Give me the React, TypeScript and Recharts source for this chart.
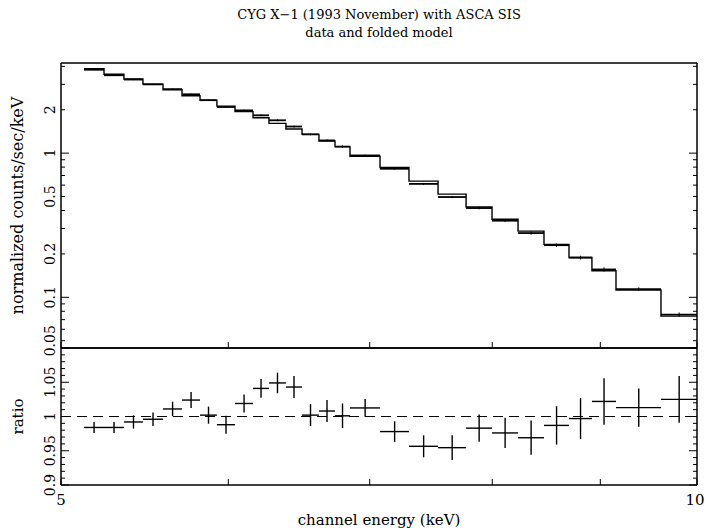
// CYG X-1 ASCA SIS — data + folded model, with ratio panel

import { ComposedChart, Line, Scatter, XAxis, YAxis, ErrorBar, ReferenceLine } from 'recharts';

// ── data ──
// bin edges in keV (27 bins)
const binEdges = [
  5.127, 5.24, 5.355, 5.467, 5.588, 5.705, 5.818, 5.926, 6.044, 6.164, 6.272, 6.389, 6.502, 6.623,
  6.74, 6.851, 7.079, 7.306, 7.541, 7.775, 7.998, 8.228, 8.464, 8.698, 8.918, 9.155, 9.615, 10.0,
];
// folded model, counts/sec/keV
const model = [
  3.85, 3.53, 3.27, 3.01, 2.75, 2.5, 2.33, 2.12, 1.94, 1.76, 1.61, 1.47, 1.35, 1.215, 1.11, 0.952,
  0.796, 0.64, 0.52, 0.423, 0.348, 0.288, 0.233, 0.189, 0.153, 0.1125, 0.074,
];
// observed data, counts/sec/keV
const counts = [
  3.79, 3.47, 3.24, 3.0, 2.78, 2.56, 2.33, 2.09, 1.98, 1.83, 1.69, 1.53, 1.35, 1.225, 1.11, 0.964,
  0.779, 0.612, 0.496, 0.416, 0.34, 0.279, 0.23, 0.1885, 0.156, 0.114, 0.0759,
];
// data / model
const ratio = [
  0.984, 0.984, 0.992, 0.996, 1.011, 1.024, 1.002, 0.988, 1.019, 1.041, 1.049, 1.043, 1.002, 1.008,
  1.001, 1.0125, 0.978, 0.9565, 0.9545, 0.983, 0.976, 0.969, 0.987, 0.997, 1.022, 1.013, 1.025,
];
// 1-sigma error on ratio
const ratioErr = [
  0.008, 0.008, 0.0097, 0.01, 0.0106, 0.0116, 0.0125, 0.013, 0.013, 0.0137, 0.015, 0.016, 0.016,
  0.016, 0.018, 0.013, 0.015, 0.016, 0.018, 0.02, 0.022, 0.025, 0.028, 0.03, 0.034, 0.028, 0.034,
];

const xTicks = [5, 6, 7, 8, 9, 10];
const xLabels: Record<number, string> = { 5: '5', 10: '10' };
const countTicks = [
  0.05, 0.06, 0.07, 0.08, 0.09, 0.1, 0.2, 0.3, 0.4, 0.5, 0.6, 0.7, 0.8, 0.9, 1, 2, 3, 4,
];
const countLabels: Record<number, string> = { 0.05: '0.05', 0.1: '0.1', 0.2: '0.2', 0.5: '0.5', 1: '1', 2: '2' };
const countMajors = [0.1, 1];
const ratioTicks = [
  0.9, 0.91, 0.92, 0.93, 0.94, 0.95, 0.96, 0.97, 0.98, 0.99, 1, 1.01, 1.02, 1.03, 1.04, 1.05, 1.06,
  1.07, 1.08, 1.09, 1.1,
];
const ratioLabels: Record<number, string> = { 0.9: '0.9', 0.95: '0.95', 1: '1', 1.05: '1.05' };
const ratioMajors = [0.9, 0.95, 1, 1.05, 1.1];

// model as a step line over bin edges, last value repeated at the end edge
const modelRows = binEdges.map((x, i) => ({ x, m: model[Math.min(i, model.length - 1)] }));
const dataRows = model.map((_, i) => {
  const lo = binEdges[i];
  const hi = binEdges[i + 1];
  const c = (lo + hi) / 2;
  return {
    x: c,
    d: counts[i],
    r: ratio[i],
    xErr: [c - lo, hi - c],
    dErr: counts[i] * ratioErr[i],
    rErr: ratioErr[i],
  };
});

const W = 705;
const H = 528;
const FONT = "'DejaVu Serif', serif";
const INK = '#000';

const near = (a: number, b: number) => Math.abs(a - b) < 1e-9;

// tick renderers: ticks point into the frame, labels drawn rotated like PGPLOT
function yTick(side: 'left' | 'right', majors: number[], labels: Record<number, string>) {
  return (props: any) => {
    const { x, y, payload } = props;
    const v = payload.value as number;
    const len = majors.some((m) => near(m, v)) ? 8 : 4;
    const dir = side === 'left' ? 1 : -1;
    const key = Object.keys(labels).find((k) => near(Number(k), v));
    const lx = x - 6;
    return (
      <g>
        <line x1={x} y1={y} x2={x + dir * len} y2={y} stroke={INK} strokeWidth={1} />
        {side === 'left' && key !== undefined && (
          <text x={lx} y={y} transform={`rotate(-90 ${lx} ${y})`} textAnchor="middle" fontFamily={FONT} fontSize={14} fill={INK}>
            {labels[Number(key)]}
          </text>
        )}
      </g>
    );
  };
}

function xTick(side: 'top' | 'bottom', showLabels: boolean) {
  return (props: any) => {
    const { x, y, payload } = props;
    const v = payload.value as number;
    const dir = side === 'bottom' ? -1 : 1;
    const lbl = xLabels[v];
    // keep the right-hand "10" inside the page
    const lx = Math.min(x, W - 10);
    return (
      <g>
        <line x1={x} y1={y} x2={x} y2={y + dir * 6} stroke={INK} strokeWidth={1} />
        {showLabels && lbl && (
          <text x={lx} y={y + 20} textAnchor="middle" fontFamily={FONT} fontSize={15} fill={INK}>
            {lbl}
          </text>
        )}
      </g>
    );
  };
}

const axisLine = { stroke: INK, strokeWidth: 1.5 };

// axes are 1px thick because recharts skips drawing zero-size axes
function Frame({ yTicks, yMajors, yLabels, domain, scale, bottomLabels }: any) {
  return (
    <>
      <XAxis
        xAxisId={0}
        dataKey="x"
        type="number"
        scale="log"
        domain={[5, 10]}
        allowDataOverflow
        ticks={xTicks}
        interval={0}
        height={1}
        tickSize={0}
        tickMargin={0}
        tickLine={false}
        axisLine={axisLine}
        tick={xTick('bottom', bottomLabels)}
      />
      <XAxis
        xAxisId="top"
        orientation="top"
        type="number"
        scale="log"
        domain={[5, 10]}
        allowDataOverflow
        ticks={xTicks}
        interval={0}
        height={1}
        tickSize={0}
        tickMargin={0}
        tickLine={false}
        axisLine={axisLine}
        tick={xTick('top', false)}
      />
      <YAxis
        yAxisId={0}
        type="number"
        scale={scale}
        domain={domain}
        allowDataOverflow
        ticks={yTicks}
        interval={0}
        width={1}
        tickSize={0}
        tickMargin={0}
        tickLine={false}
        axisLine={axisLine}
        tick={yTick('left', yMajors, yLabels)}
      />
      <YAxis
        yAxisId="right"
        orientation="right"
        type="number"
        scale={scale}
        domain={domain}
        allowDataOverflow
        ticks={yTicks}
        interval={0}
        width={1}
        tickSize={0}
        tickMargin={0}
        tickLine={false}
        axisLine={axisLine}
        tick={yTick('right', yMajors, yLabels)}
      />
    </>
  );
}

const noShape = () => <g />;

export default function App() {
  const top = 63;
  const split = 348;
  const bottom = 485;
  const left = 61;
  const right = 697;

  return (
    <div style={{ position: 'relative', width: W, height: H, background: '#fff' }}>
      <style>{'body{margin:0}'}</style>

      {/* upper panel: counts */}
      <div style={{ position: 'absolute', left: 0, top: 0 }}>
        <ComposedChart width={W} height={H} margin={{ top: top - 1, right: W - right - 1, bottom: H - split - 1, left: left - 1 }}>
          {Frame({ yTicks: countTicks, yMajors: countMajors, yLabels: countLabels, domain: [0.0445, 4.22], scale: 'log', bottomLabels: false })}
          <Line
            data={modelRows}
            dataKey="m"
            type="stepAfter"
            stroke={INK}
            strokeWidth={1.4}
            dot={false}
            activeDot={false}
            isAnimationActive={false}
          />
          <Scatter data={dataRows} dataKey="d" shape={noShape} isAnimationActive={false}>
            <ErrorBar dataKey="xErr" direction="x" width={0} stroke={INK} strokeWidth={1.8} isAnimationActive={false} />
            <ErrorBar dataKey="dErr" direction="y" width={0} stroke={INK} strokeWidth={1} isAnimationActive={false} />
          </Scatter>
        </ComposedChart>
      </div>

      {/* lower panel: ratio */}
      <div style={{ position: 'absolute', left: 0, top: 0 }}>
        <ComposedChart width={W} height={H} margin={{ top: split - 1, right: W - right - 1, bottom: H - bottom - 1, left: left - 1 }}>
          {Frame({ yTicks: ratioTicks, yMajors: ratioMajors, yLabels: ratioLabels, domain: [0.9, 1.1], scale: 'linear', bottomLabels: true })}
          <ReferenceLine y={1} stroke={INK} strokeWidth={1.2} strokeDasharray="10 6" />
          <Scatter data={dataRows} dataKey="r" shape={noShape} isAnimationActive={false}>
            <ErrorBar dataKey="xErr" direction="x" width={0} stroke={INK} strokeWidth={1.4} isAnimationActive={false} />
            <ErrorBar dataKey="rErr" direction="y" width={0} stroke={INK} strokeWidth={1.4} isAnimationActive={false} />
          </Scatter>
        </ComposedChart>
      </div>

      {/* titles */}
      <svg width={W} height={H} style={{ position: 'absolute', left: 0, top: 0, pointerEvents: 'none' }}>
        <g fontFamily={FONT} fill={INK} textAnchor="middle">
          <text x={(left + right) / 2} y={19} fontSize={13}>CYG X−1 (1993 November) with ASCA SIS</text>
          <text x={(left + right) / 2} y={37} fontSize={13}>data and folded model</text>
          <text x={(left + right) / 2} y={525} fontSize={15}>channel energy (keV)</text>
          <text x={23} y={(top + split) / 2} fontSize={16} transform={`rotate(-90 23 ${(top + split) / 2})`}>
            normalized counts/sec/keV
          </text>
          <text x={23} y={(split + bottom) / 2} fontSize={15} transform={`rotate(-90 23 ${(split + bottom) / 2})`}>
            ratio
          </text>
        </g>
      </svg>
    </div>
  );
}
